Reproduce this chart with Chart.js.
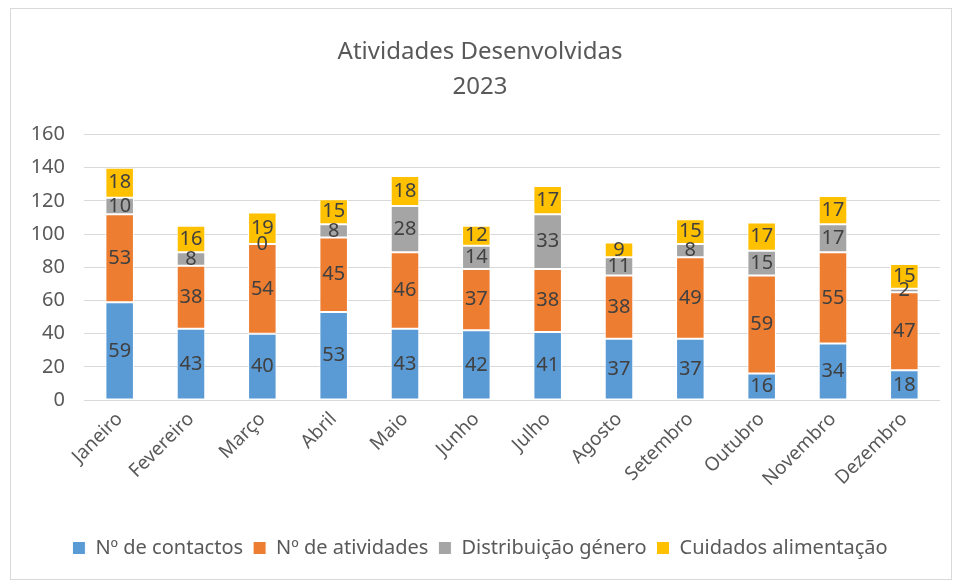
<!DOCTYPE html>
<html>
<head>
<meta charset="utf-8">
<script src="https://cdn.jsdelivr.net/npm/chart.js@4"></script>
<style>
  body { margin: 0; background: #fff; }
  #frame { position: absolute; left: 10px; top: 8px; width: 940px; height: 570px; border: 1px solid #d9d9d9; }
  #wrap { position: absolute; left: 0; top: 0; width: 957px; height: 580px; }
</style>
</head>
<body>
<div id="frame"></div>
<div id="wrap"><canvas id="myChart"></canvas></div>
<script>
let meses = ['Janeiro', 'Fevereiro', 'Março', 'Abril', 'Maio', 'Junho', 'Julho', 'Agosto', 'Setembro', 'Outubro', 'Novembro', 'Dezembro'];

let contactos    = [59, 43, 40, 53, 43, 42, 41, 37, 37, 16, 34, 18];
let atividades   = [53, 38, 54, 45, 46, 37, 38, 38, 49, 59, 55, 47];
let distribuicao = [10, 8, 0, 8, 28, 14, 33, 11, 8, 15, 17, 2];
let cuidados     = [18, 16, 19, 15, 18, 12, 17, 9, 15, 17, 17, 15];

let yTicks = [0, 20, 40, 60, 80, 100, 120, 140, 160];

const fonte = "'Noto Sans', sans-serif";

// desenha o valor no meio de cada segmento
const rotulos = {
  id: 'rotulos',
  afterDatasetsDraw(chart) {
    const c = chart.ctx;
    c.save();
    c.font = '20px ' + fonte;
    c.fillStyle = '#404040';
    c.textAlign = 'center';
    c.textBaseline = 'middle';
    chart.data.datasets.forEach((ds, i) => {
      const meta = chart.getDatasetMeta(i);
      meta.data.forEach((bar, j) => {
        c.fillText(ds.data[j], bar.x, (bar.y + bar.base) / 2);
      });
    });
    c.restore();
  }
};

let ctx = document.getElementById('myChart');

let chart_cfg = {
  type: 'bar',
  data: {
    labels: meses,
    datasets: [
      { label: 'Nº de contactos', data: contactos, backgroundColor: '#5b9bd5' },
      { label: 'Nº de atividades', data: atividades, backgroundColor: '#ed7d31' },
      { label: 'Distribuição género', data: distribuicao, backgroundColor: '#a5a5a5' },
      { label: 'Cuidados alimentação', data: cuidados, backgroundColor: '#ffc000' }
    ]
  },
  options: {
    responsive: true,
    maintainAspectRatio: false,
    animation: false,
    datasets: {
      bar: { barPercentage: 0.4, categoryPercentage: 1, borderColor: '#ffffff', borderWidth: 1, borderSkipped: false }
    },
    layout: { padding: { left: 20, right: 17, top: 10, bottom: 12 } },
    plugins: {
      title: {
        display: true,
        text: ['Atividades Desenvolvidas', '2023'],
        color: '#595959',
        font: { family: fonte, size: 24, weight: 'normal', lineHeight: 1.45 },
        padding: { top: 25, bottom: 30 }
      },
      legend: {
        position: 'bottom',
        labels: {
          color: '#595959',
          font: { family: fonte, size: 20 },
          boxWidth: 13,
          boxHeight: 13,
          padding: 10
        }
      },
      tooltip: { enabled: false }
    },
    scales: {
      x: {
        stacked: true,
        grid: { display: false },
        border: { display: false },
        ticks: {
          color: '#595959',
          font: { family: fonte, size: 19 },
          maxRotation: 45,
          minRotation: 45,
          padding: 0
        },
        afterFit(scale) { scale.height = 128; }
      },
      y: {
        stacked: true,
        min: 0,
        max: 160,
        afterBuildTicks(scale) { scale.ticks = yTicks.map(v => ({ value: v })); },
        grid: { color: '#d9d9d9', lineWidth: 1, drawTicks: false },
        border: { display: false },
        ticks: {
          color: '#595959',
          font: { family: fonte, size: 20 },
          padding: 19
        },
        afterFit(scale) { scale.width = 64; }
      }
    }
  },
  plugins: [rotulos]
};

const myChart = new Chart(ctx, chart_cfg);
</script>
</body>
</html>
